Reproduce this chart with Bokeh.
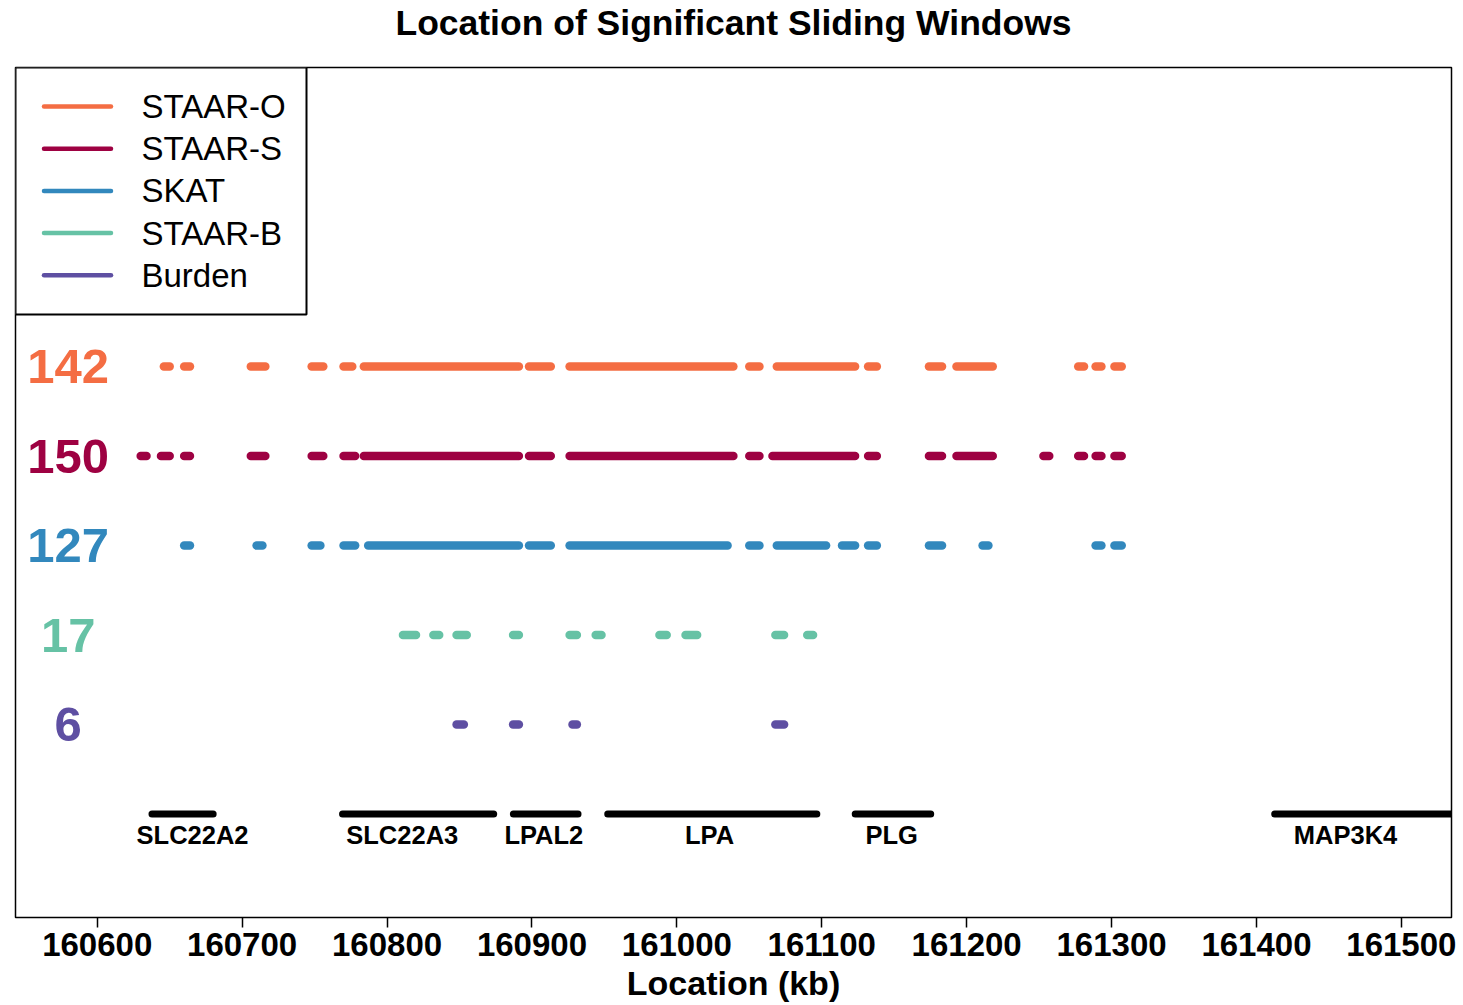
from bokeh.plotting import figure
from bokeh.models import Range1d, FixedTicker, BasicTickFormatter, ColumnDataSource, Title
from bokeh.core.properties import value
from bokeh.embed import file_html
from bokeh.resources import INLINE

# ---- data -------------------------------------------------------------
methods = ["STAAR-O", "STAAR-S", "SKAT", "STAAR-B", "Burden"]
method_colors = ["#F46D43", "#9E0142", "#3288BD", "#66C2A5", "#5E4FA2"]
sig_counts = [142, 150, 127, 17, 6]

# runs of significant sliding windows (start, end in kb)
staar_o_start = [160646, 160660, 160706, 160748, 160770, 160784, 160898, 160926,
                 161050, 161069, 161132, 161174, 161193, 161277, 161289, 161302]
staar_o_end = [160650, 160664, 160716, 160756, 160776, 160891, 160913, 161039,
               161057, 161123, 161138, 161183, 161218, 161281, 161293, 161307]

staar_s_start = [160630, 160644, 160660, 160706, 160748, 160770, 160784, 160898, 160926,
                 161050, 161066, 161132, 161174, 161193, 161253, 161277, 161289, 161302]
staar_s_end = [160634, 160650, 160664, 160716, 160756, 160778, 160891, 160913, 161039,
               161057, 161123, 161138, 161183, 161218, 161257, 161281, 161293, 161307]

skat_start = [160660, 160710, 160748, 160770, 160787, 160898, 160926, 161050,
              161069, 161114, 161132, 161174, 161211, 161289, 161302]
skat_end = [160664, 160714, 160754, 160778, 160891, 160913, 161035, 161057,
            161103, 161123, 161138, 161183, 161215, 161293, 161307]

staar_b_start = [160811, 160832, 160848, 160887, 160926, 160944, 160988, 161006, 161068, 161090]
staar_b_end = [160820, 160836, 160855, 160891, 160931, 160948, 160993, 161014, 161074, 161094]

burden_start = [160848, 160887, 160928, 161068]
burden_end = [160853, 160891, 160931, 161074]

# genes in the region (kb)
gene_names = ["SLC22A2", "SLC22A3", "LPAL2", "LPA", "PLG", "MAP3K4"]
gene_start = [160637.8, 160769.3, 160887.2, 160952.3, 161123.1, 161412.6]
gene_end = [160680.0, 160873.6, 160931.8, 161096.6, 161175.2, 161538.0]
gene_label_pos = [160665.8, 160810.5, 160908.2, 161022.6, 161148.2, 161461.5]

x_ticks = [160600, 160700, 160800, 160900, 161000, 161100, 161200, 161300, 161400, 161500]
count_label_pos = 160580

# ---- layout constants ---------------------------------------------------
FRAME_W, FRAME_H = 1436, 850
X_LEFT, X_RIGHT = 160543.6, 161534.6
PX_PER_KB = FRAME_W / (X_RIGHT - X_LEFT)
PX_PER_ROW = 89.5
Y_BOTTOM = -1.156
Y_TOP = Y_BOTTOM + FRAME_H / PX_PER_ROW
FONT = "Liberation Sans"

row_y = [5, 4, 3, 2, 1]
gene_y = 0

p = figure(width=1463, height=1005, output_backend="svg", toolbar_location=None, tools="",
           x_range=Range1d(X_LEFT, X_RIGHT), y_range=Range1d(Y_BOTTOM, Y_TOP),
           min_border_left=15, min_border_right=12, min_border_top=67, min_border_bottom=88,
           y_axis_location=None)

p.background_fill_color = "white"
p.border_fill_color = "white"
p.outline_line_color = "black"
p.outline_line_width = 1.5
p.xgrid.visible = False
p.ygrid.visible = False

# blank band between the title and the frame, then the title itself
p.add_layout(Title(text=" ", text_font=FONT, text_font_size="10px", standoff=9.6), "above")
p.add_layout(Title(text="Location of Significant Sliding Windows", align="center",
                   vertical_align="top", text_font=FONT, text_font_size="35.5px",
                   text_font_style="bold", text_color="black", standoff=0), "above")

ax = p.xaxis[0]
ax.ticker = FixedTicker(ticks=x_ticks)
ax.formatter = BasicTickFormatter(use_scientific=False)
ax.axis_line_color = None
ax.major_tick_in = 0
ax.major_tick_out = 10
ax.major_tick_line_color = "black"
ax.major_tick_line_width = 1.5
ax.minor_tick_line_color = None
ax.major_label_text_font = FONT
ax.major_label_text_font_size = "33px"
ax.major_label_text_font_style = "bold"
ax.major_label_text_color = "black"
ax.major_label_standoff = 5
ax.axis_label = "Location (kb)"
ax.axis_label_text_font = FONT
ax.axis_label_text_font_size = "34px"
ax.axis_label_text_font_style = "bold"
ax.axis_label_text_color = "black"
ax.axis_label_standoff = 5

# ---- significant windows --------------------------------------------------
runs = [(staar_o_start, staar_o_end), (staar_s_start, staar_s_end),
        (skat_start, skat_end), (staar_b_start, staar_b_end),
        (burden_start, burden_end)]
x0, x1, ys, cols = [], [], [], []
for (starts, ends), y, c in zip(runs, row_y, method_colors):
    x0 += starts
    x1 += ends
    ys += [y] * len(starts)
    cols += [c] * len(starts)
win_src = ColumnDataSource(dict(x0=x0, x1=x1, y=ys, color=cols))
p.segment(x0="x0", y0="y", x1="x1", y1="y", color="color", line_width=8.5,
          line_cap="round", source=win_src)

# counts of significant windows per method
p.text(x=[count_label_pos] * len(sig_counts), y=row_y, text=[str(c) for c in sig_counts],
       text_color=method_colors, text_font=value(FONT), text_font_size="49px",
       text_font_style="bold", text_align="center", text_baseline="middle")

# ---- genes ----------------------------------------------------------------
p.segment(x0=gene_start, y0=[gene_y] * len(gene_names), x1=gene_end,
          y1=[gene_y] * len(gene_names), color="black", line_width=7, line_cap="round")
p.text(x=gene_label_pos, y=[gene_y - 20.5 / PX_PER_ROW] * len(gene_names), text=gene_names,
       text_color="black", text_font=value(FONT), text_font_size="25.5px",
       text_font_style="bold", text_align="center", text_baseline="middle")

# ---- legend box ------------------------------------------------------------
def kb_from_left(px):
    return X_LEFT + px / PX_PER_KB

def y_from_top(px):
    return Y_TOP - px / PX_PER_ROW

p.quad(left=[X_LEFT], right=[kb_from_left(291)], top=[Y_TOP], bottom=[y_from_top(247)],
       fill_color="white", line_color="black", line_width=2)
leg_y = [y_from_top(39 + 42.2 * i) for i in range(len(methods))]
p.segment(x0=[kb_from_left(28.5)] * len(methods), y0=leg_y,
          x1=[kb_from_left(95.5)] * len(methods), y1=leg_y,
          color=method_colors, line_width=4.5, line_cap="round")
p.text(x=[kb_from_left(126)] * len(methods), y=leg_y, text=methods, text_color="black",
       text_font=value(FONT), text_font_size="33px", text_align="left",
       text_baseline="middle")

open("out.html", "w").write(file_html(p, INLINE))
